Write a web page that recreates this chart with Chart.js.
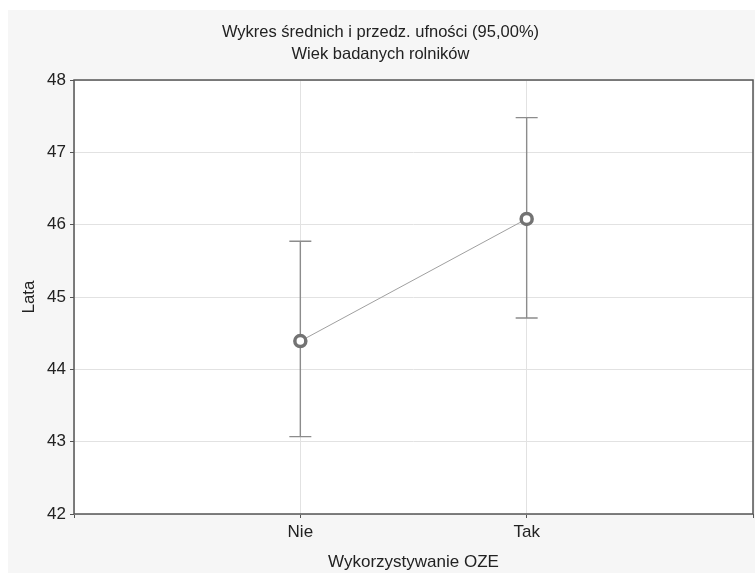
<!DOCTYPE html>
<html>
<head>
<meta charset="utf-8">
<script src="https://cdn.jsdelivr.net/npm/chart.js@4.4.0/dist/chart.umd.min.js"></script>
<style>
  body { margin: 0; background: #ffffff; }
  #wrap { position: absolute; left: 8px; top: 10px; width: 747px; height: 563px; background: #f6f6f6; }
</style>
</head>
<body>
<div id="wrap"><canvas id="meanChart" width="747" height="563"></canvas></div>
<script>
// data
const categories = ['Nie', 'Tak'];
const means = [44.39, 46.08];
const upper = [45.77, 47.48];
const lower = [43.07, 44.71];
const yTicks = [42, 43, 44, 45, 46, 47, 48];

const FONT = "'Liberation Sans', Arial, sans-serif";

// whiskers for the confidence intervals + frame around the plot
const errorBars = {
    id: 'errorBars',
    beforeDatasetsDraw(chart) {
        const ctx = chart.ctx;
        const x = chart.scales.x, y = chart.scales.y;
        ctx.save();
        ctx.strokeStyle = '#8c8c8c';
        ctx.lineWidth = 1.4;
        categories.forEach(function (c, i) {
            const px = x.getPixelForValue(i + 1);
            const top = y.getPixelForValue(upper[i]);
            const bot = y.getPixelForValue(lower[i]);
            ctx.beginPath();
            ctx.moveTo(px, top); ctx.lineTo(px, bot);
            ctx.moveTo(px - 11, top); ctx.lineTo(px + 11, top);
            ctx.moveTo(px - 11, bot); ctx.lineTo(px + 11, bot);
            ctx.stroke();
        });
        ctx.restore();
    },
    afterDraw(chart) {
        const a = chart.chartArea, ctx = chart.ctx;
        ctx.save();
        ctx.strokeStyle = '#555555';
        ctx.lineWidth = 1.5;
        ctx.strokeRect(a.left, a.top, a.right - a.left, a.bottom - a.top);
        ctx.restore();
    }
};

// plot area background
const plotBg = {
    id: 'plotBg',
    beforeDraw(chart) {
        const a = chart.chartArea, ctx = chart.ctx;
        ctx.save();
        ctx.fillStyle = '#ffffff';
        ctx.fillRect(a.left, a.top, a.right - a.left, a.bottom - a.top);
        ctx.restore();
    }
};

const ctx = document.getElementById('meanChart').getContext('2d');
new Chart(ctx, {
    type: 'line',
    data: {
        datasets: [{
            label: 'Średnia',
            data: means.map(function (v, i) { return { x: i + 1, y: v }; }),
            borderColor: '#a0a0a0',
            borderWidth: 1,
            pointRadius: 5.5,
            pointBorderWidth: 3.5,
            pointBorderColor: '#737373',
            pointBackgroundColor: '#ffffff',
            fill: false
        }]
    },
    plugins: [plotBg, errorBars],
    options: {
        responsive: false,
        animation: false,
        layout: { autoPadding: false, padding: { left: 0, right: 2, top: 0, bottom: 0 } },
        plugins: {
            legend: { display: false },
            tooltip: { enabled: false },
            title: {
                display: true,
                text: ['Wykres średnich i przedz. ufności (95,00%)', 'Wiek badanych rolników'],
                color: '#222222',
                font: { family: FONT, size: 16.5, weight: 'normal', lineHeight: '22px' },
                padding: { top: 11.5, bottom: 14.5 }
            }
        },
        scales: {
            x: {
                type: 'linear',
                min: 0,
                max: categories.length + 1,
                afterBuildTicks(scale) {
                    scale.ticks = [0, 1, 2, 3].map(function (v) { return { value: v }; });
                },
                afterFit(scale) {
                    scale.height = 59;
                    scale.paddingLeft = 0;
                    scale.paddingRight = 0;
                },
                ticks: {
                    color: '#222222',
                    font: { family: FONT, size: 17 },
                    padding: 4,
                    maxRotation: 0,
                    callback: function (v) { return categories[v - 1] || ''; }
                },
                grid: { color: '#e2e2e2', tickColor: '#555555', tickLength: 4 },
                border: { display: false },
                title: {
                    display: true,
                    text: 'Wykorzystywanie OZE',
                    color: '#222222',
                    font: { family: FONT, size: 17 },
                    padding: { top: 0, bottom: 0 }
                }
            },
            y: {
                min: yTicks[0],
                max: yTicks[yTicks.length - 1],
                afterBuildTicks(scale) {
                    scale.ticks = yTicks.map(function (v) { return { value: v }; });
                },
                afterFit(scale) { scale.width = 66; },
                ticks: {
                    color: '#222222',
                    font: { family: FONT, size: 17 },
                    padding: 4
                },
                grid: { color: '#e2e2e2', tickColor: '#555555', tickLength: 4 },
                border: { display: false },
                title: {
                    display: true,
                    text: 'Lata',
                    color: '#222222',
                    font: { family: FONT, size: 17 },
                    padding: { top: 11, bottom: 0 }
                }
            }
        }
    }
});
</script>
</body>
</html>
